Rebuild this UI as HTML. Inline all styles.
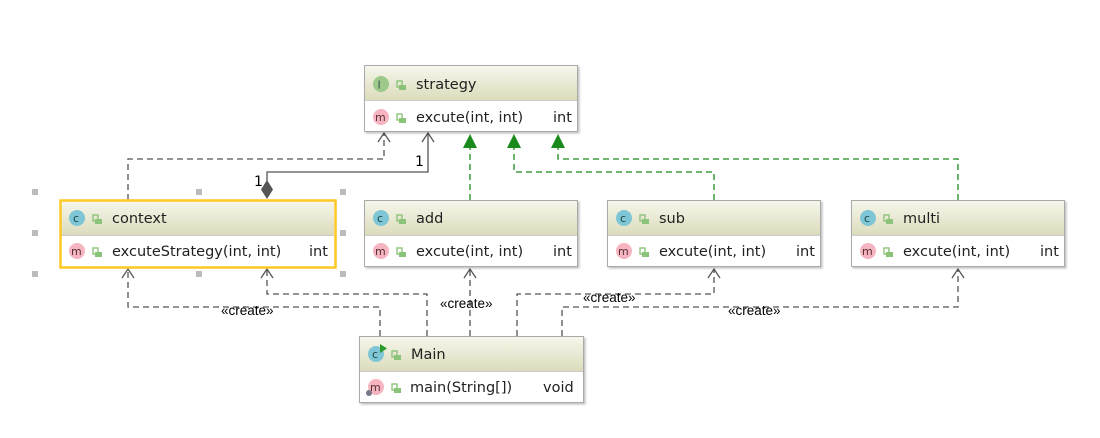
<!DOCTYPE html>
<html><head><style>
body{margin:0;background:#fff;}
svg text{font-family:"DejaVu Sans","Liberation Sans",sans-serif;}
</style></head><body>
<svg width="1100" height="433" viewBox="0 0 1100 433" xmlns="http://www.w3.org/2000/svg">
<defs>
<linearGradient id="hg" x1="0" y1="0" x2="0" y2="1">
<stop offset="0" stop-color="#f6f6ec"/><stop offset="1" stop-color="#dcdcbc"/></linearGradient>
<filter id="sh" x="-5%" y="-5%" width="115%" height="130%"><feDropShadow dx="1.5" dy="1.5" stdDeviation="1" flood-color="#000" flood-opacity="0.25"/></filter>
<g id="lock"><rect x="0" y="-4" width="5" height="6" fill="none" stroke="#8cc37a" stroke-width="1.4"/><rect x="2" y="0" width="7" height="5" fill="#8cc37a"/></g>
</defs>

<g fill="none" stroke="#555" stroke-width="1.3" stroke-dasharray="6,4">
<path d="M128 200 V159 H384 V133"/>
<path d="M380 336 V307 H128 V269"/>
<path d="M427 336 V294 H267 V269"/>
<path d="M470 336 V269"/>
<path d="M517 336 V294 H714 V269"/>
<path d="M562 336 V307 H958 V269"/>
</g>
<g fill="none" stroke="#555" stroke-width="1.3">
<path d="M378 142 L384 133 L390 142"/>
<path d="M122 278 L128 269 L134 278"/>
<path d="M261 278 L267 269 L273 278"/>
<path d="M464 278 L470 269 L476 278"/>
<path d="M708 278 L714 269 L720 278"/>
<path d="M952 278 L958 269 L964 278"/>
<path d="M422 142 L428 133 L434 142"/>
<path d="M267 181 V172 H428 V133"/>
</g>
<path d="M267 180 L273 189.5 L267 199 L261 189.5Z" fill="#555"/>
<text x="254" y="186" font-size="14" fill="#000">1</text>
<text x="415" y="166" font-size="14" fill="#000">1</text>

<g fill="none" stroke="#1a8a1a" stroke-width="1.3" stroke-dasharray="6,4">
<path d="M470 200 V147"/>
<path d="M714 200 V172 H514 V147"/>
<path d="M958 200 V159 H558 V147"/>
</g>
<g fill="#1a8a1a">
<path d="M463 148 L470 134 L477 148Z"/>
<path d="M507 148 L514 134 L521 148Z"/>
<path d="M551 148 L558 134 L565 148Z"/>
</g>

<g font-size="13.5" fill="#000" font-family="Liberation Sans, sans-serif">
<text x="221" y="315" style="font-family:'Liberation Sans',sans-serif">«create»</text>
<text x="440" y="308" style="font-family:'Liberation Sans',sans-serif">«create»</text>
<text x="583" y="302" style="font-family:'Liberation Sans',sans-serif">«create»</text>
<text x="728" y="315" style="font-family:'Liberation Sans',sans-serif">«create»</text>
</g>

<g font-size="14.5" fill="#222">
<g filter="url(#sh)"><rect x="364.5" y="65.5" width="213" height="66" fill="#fff" stroke="#aaa"/></g>
<rect x="365" y="66" width="212" height="34" fill="url(#hg)"/>
<line x1="365" y1="100.5" x2="577" y2="100.5" stroke="#ccc"/>
<circle cx="381" cy="84" r="8" fill="#9dc98a"/><text x="377.5" y="88.5" font-size="11" fill="#355">I</text>
<use href="#lock" x="397" y="85"/>
<text x="416" y="89">strategy</text>
<circle cx="381" cy="117" r="8" fill="#f6b3c0"/><text x="375" y="121" font-size="11" fill="#533">m</text>
<use href="#lock" x="397" y="118"/>
<text x="416" y="122">excute(int, int)</text><text x="553" y="122">int</text>

<rect x="60" y="200" width="275" height="67" fill="#fff"/>
<rect x="61" y="201" width="273" height="34" fill="url(#hg)"/>
<line x1="61" y1="235.5" x2="334" y2="235.5" stroke="#ccc"/>
<rect x="60.5" y="200.5" width="275" height="67" fill="none" stroke="#ffc824" stroke-width="2.5"/>
<circle cx="77" cy="218" r="8" fill="#7ec6d6"/><text x="73" y="222" font-size="11" fill="#244">c</text>
<use href="#lock" x="93" y="219"/>
<text x="112" y="223">context</text>
<circle cx="77" cy="251" r="8" fill="#f6b3c0"/><text x="71" y="255" font-size="11" fill="#533">m</text>
<use href="#lock" x="93" y="252"/>
<text x="112" y="256">excuteStrategy(int, int)</text><rect x="281" y="242" width="10" height="18" fill="#fff"/><text x="309" y="256">int</text>
<g fill="#bbb">
<rect x="32" y="189" width="6" height="6"/><rect x="196" y="189" width="6" height="6"/><rect x="340" y="189" width="6" height="6"/>
<rect x="32" y="230" width="6" height="6"/><rect x="340" y="230" width="6" height="6"/>
<rect x="32" y="271" width="6" height="6"/><rect x="196" y="271" width="6" height="6"/><rect x="340" y="271" width="6" height="6"/>
</g>

<g id="cls">
<g filter="url(#sh)"><rect x="364.5" y="200.5" width="213" height="66" fill="#fff" stroke="#aaa"/></g>
<rect x="365" y="201" width="212" height="34" fill="url(#hg)"/>
<line x1="365" y1="235.5" x2="577" y2="235.5" stroke="#ccc"/>
<circle cx="381" cy="218" r="8" fill="#7ec6d6"/><text x="377" y="222" font-size="11" fill="#244">c</text>
<use href="#lock" x="397" y="219"/>
<circle cx="381" cy="251" r="8" fill="#f6b3c0"/><text x="375" y="255" font-size="11" fill="#533">m</text>
<use href="#lock" x="397" y="252"/>
<text x="416" y="256">excute(int, int)</text><text x="553" y="256">int</text>
</g>
<text x="416" y="223">add</text>
<use href="#cls" x="243"/><text x="659" y="223">sub</text>
<use href="#cls" x="487"/><text x="903" y="223">multi</text>

<g filter="url(#sh)"><rect x="359.5" y="336.5" width="224" height="66" fill="#fff" stroke="#aaa"/></g>
<rect x="360" y="337" width="223" height="34" fill="url(#hg)"/>
<line x1="360" y1="371.5" x2="583" y2="371.5" stroke="#ccc"/>
<circle cx="376" cy="354" r="8" fill="#7ec6d6"/><text x="372" y="358" font-size="11" fill="#244">c</text>
<path d="M380 344 L387 348.5 L380 353Z" fill="#2a9a2a"/>
<use href="#lock" x="392" y="355"/>
<text x="411" y="359">Main</text>
<circle cx="376" cy="387" r="8" fill="#f6b3c0"/><text x="370" y="391" font-size="11" fill="#533">m</text>
<circle cx="369" cy="393" r="3" fill="#778"/>
<use href="#lock" x="392" y="388"/>
<text x="410" y="392">main(String[])</text><text x="543" y="392">void</text>
</g>
</svg>
</body></html>
